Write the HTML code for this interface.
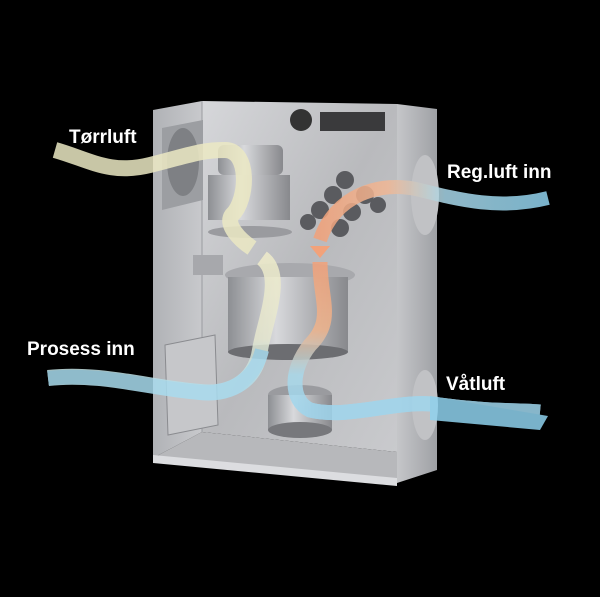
<!DOCTYPE html>
<html><head><meta charset="utf-8"><style>
html,body{margin:0;padding:0;background:#000;width:600px;height:597px;overflow:hidden}
svg{display:block}
text{font-family:"Liberation Sans",sans-serif;font-weight:bold;fill:#fff;font-size:19px}
</style></head><body>
<svg width="600" height="597" viewBox="0 0 600 597">
<defs>
<linearGradient id="back" x1="0" y1="0" x2="1" y2="1">
<stop offset="0" stop-color="#d6d7da"/><stop offset="0.5" stop-color="#b9babd"/><stop offset="1" stop-color="#c9cacd"/></linearGradient>
<linearGradient id="side" x1="0" y1="0" x2="1" y2="0">
<stop offset="0" stop-color="#b0b2b6"/><stop offset="1" stop-color="#c8c9cc"/></linearGradient>
<linearGradient id="rside" x1="0" y1="0" x2="1" y2="0">
<stop offset="0" stop-color="#c5c6c9"/><stop offset="1" stop-color="#9fa1a5"/></linearGradient>
<linearGradient id="cyl" x1="0" y1="0" x2="1" y2="0">
<stop offset="0" stop-color="#8d8f93"/><stop offset="0.4" stop-color="#d8d9dc"/><stop offset="1" stop-color="#88898d"/></linearGradient>
<linearGradient id="orb" x1="0" y1="0" x2="0" y2="1">
<stop offset="0" stop-color="#f2a27a"/><stop offset="0.45" stop-color="#f0b48c"/><stop offset="0.75" stop-color="#a9d8ea"/><stop offset="1" stop-color="#9fd6ee"/></linearGradient>
<linearGradient id="rg" x1="0" y1="0" x2="1" y2="0">
<stop offset="0" stop-color="#f2a27a"/><stop offset="0.3" stop-color="#f0b896"/><stop offset="0.55" stop-color="#a9d8ea"/><stop offset="1" stop-color="#8fd2ee"/></linearGradient>
<linearGradient id="crb" x1="0" y1="0" x2="0" y2="1">
<stop offset="0" stop-color="#efeccb"/><stop offset="0.6" stop-color="#e6e7cf"/><stop offset="1" stop-color="#a9dcef"/></linearGradient>
</defs>
<polygon points="153,110 202,101 202,432 153,458" fill="url(#side)"/>
<polygon points="202,101 397,104 397,452 202,432" fill="url(#back)"/>
<polygon points="202,432 397,452 397,482 153,458" fill="#b7b8bb"/>
<polygon points="153,455 397,478 397,486 153,463" fill="#dcdde0"/>
<polygon points="397,104 437,109 437,470 397,483" fill="url(#rside)"/>
<line x1="202" y1="101" x2="202" y2="432" stroke="#9a9ca0"/>
<polygon points="162,128 203,120 203,200 162,210" fill="#9c9ea2"/>
<ellipse cx="183" cy="162" rx="16" ry="34" fill="#7e8084"/>
<circle cx="301" cy="120" r="11" fill="#333"/>
<polygon points="320,112 385,112 385,131 320,131" fill="#3a3a3c"/>
<rect x="218" y="145" width="65" height="30" rx="6" fill="url(#cyl)"/>
<rect x="208" y="175" width="82" height="45" fill="url(#cyl)"/>
<ellipse cx="250" cy="232" rx="42" ry="6" fill="#9a9b9f"/>
<rect x="193" y="255" width="30" height="20" fill="#a7a8ac"/>
<ellipse cx="290" cy="275" rx="65" ry="12" fill="#a8a9ad"/>
<rect x="228" y="277" width="120" height="75" fill="url(#cyl)"/>
<ellipse cx="288" cy="352" rx="60" ry="8" fill="#6c6d71"/>
<polygon points="165,345 215,335 218,425 168,435" fill="#c6c7ca" stroke="#8a8b8f"/>
<ellipse cx="300" cy="395" rx="32" ry="10" fill="#9a9b9f"/>
<rect x="268" y="395" width="64" height="35" fill="url(#cyl)"/>
<ellipse cx="300" cy="430" rx="32" ry="8" fill="#77787c"/>
<g fill="#5a5b5f">
<circle cx="345" cy="180" r="9"/><circle cx="333" cy="195" r="9"/><circle cx="320" cy="210" r="9"/>
<circle cx="365" cy="195" r="9"/><circle cx="352" cy="212" r="9"/><circle cx="340" cy="228" r="9"/>
<circle cx="378" cy="205" r="8"/><circle cx="308" cy="222" r="8"/></g>
<ellipse cx="425" cy="195" rx="14" ry="40" fill="#c1c2c5"/>
<ellipse cx="425" cy="405" rx="13" ry="35" fill="#c1c2c5"/>
<g fill="none" stroke-linecap="butt" opacity="0.85">
<path d="M55,150 C90,160 110,175 150,165 C190,155 200,150 225,150 C250,150 248,200 232,215 C225,225 240,240 252,248" stroke="#ece9c4" stroke-width="16"/>
<path d="M262,258 C285,275 265,320 260,350 C255,385 225,395 200,392 C150,388 100,372 48,378" stroke="url(#crb)" stroke-width="16"/>
<path d="M48,378 C100,372 150,388 200,392 C230,394 255,380 262,350" stroke="#a9dcef" stroke-width="14"/>
<path d="M548,198 C500,210 460,200 420,190 C380,180 335,195 320,240" stroke="url(#rg)" stroke-width="14"/>
<path d="M320,262 C320,300 335,320 310,345 C290,370 290,400 310,410 C350,420 400,398 440,405 C490,412 520,410 540,412" stroke="url(#orb)" stroke-width="15"/>
<path d="M310,410 C350,420 400,398 440,405 C490,412 520,410 540,412" stroke="#9fd6ee" stroke-width="15"/>
<path d="M430,396 L548,416 L540,430 L430,420 Z" fill="#8fd2ee" stroke="none"/>
</g>
<polygon points="310,246 330,246 320,258" fill="#f2a27a"/>
<text x="69" y="143">Tørrluft</text>
<text x="447" y="178">Reg.luft inn</text>
<text x="27" y="355">Prosess inn</text>
<text x="446" y="390">Våtluft</text>
</svg>
</body></html>
